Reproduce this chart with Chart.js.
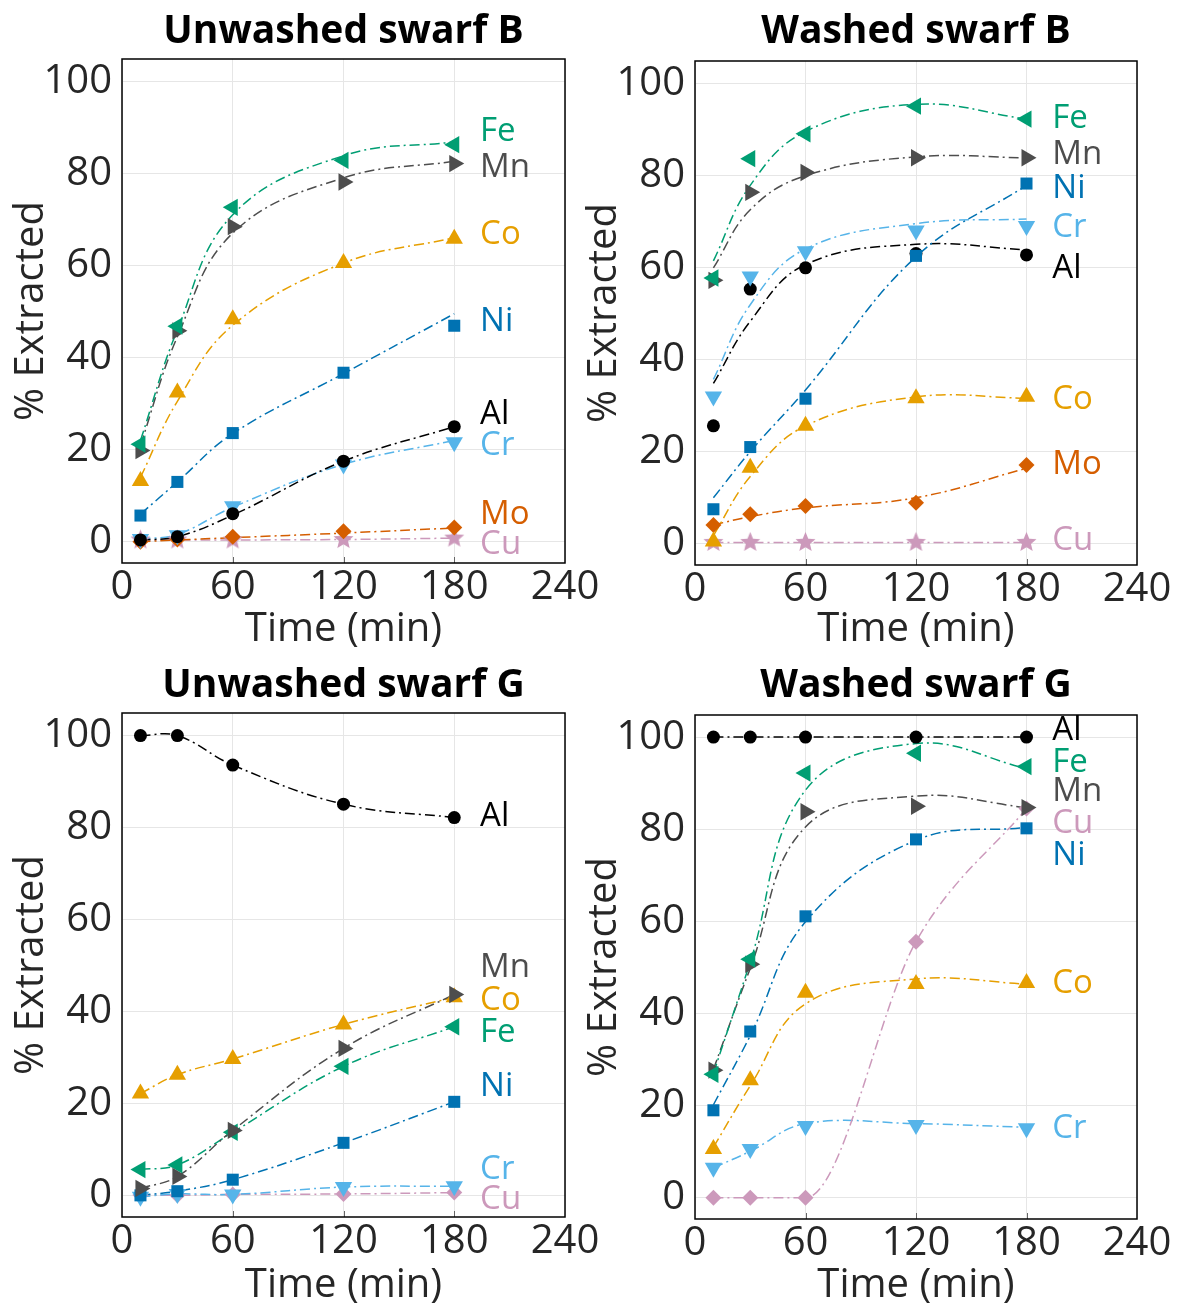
<!DOCTYPE html>
<html>
<head>
<meta charset="utf-8">
<script src="https://cdn.jsdelivr.net/npm/chart.js@4.4.0/dist/chart.umd.min.js"></script>
<style>
  html, body { margin: 0; padding: 0; background: #fff; overflow: hidden; }
  #wrap { position: relative; width: 1178px; height: 1306px; }
  .panel { position: absolute; }
</style>
</head>
<body>
<div id="wrap">
  <div class="panel" style="left:0px;top:0px"><canvas id="c0" width="610" height="650"></canvas></div>
  <div class="panel" style="left:573px;top:0px"><canvas id="c1" width="605" height="650"></canvas></div>
  <div class="panel" style="left:0px;top:653px"><canvas id="c2" width="610" height="653"></canvas></div>
  <div class="panel" style="left:573px;top:653px"><canvas id="c3" width="605" height="653"></canvas></div>
</div>
<script>
const times = [10, 30, 60, 120, 180];
const xTicks = [0, 60, 120, 180, 240];
const yTicks = [0, 20, 40, 60, 80, 100];

const colors = {
  Fe: "#009E73", Mn: "#4D4D4D", Co: "#E69F00", Ni: "#0072B2",
  Al: "#000000", Cr: "#56B4E9", Mo: "#D55E00", Cu: "#CC99BB"
};

// Unwashed swarf B
const ubNames = ["Fe", "Mn", "Co", "Ni", "Al", "Cr", "Mo", "Cu"];
const ubMarks = [
  [21.2, 46.8, 72.6, 82.8, 86.2],
  [19.8, 45.8, 68.4, 78.1, 82.1],
  [13.2, 32.4, 48.3, 60.5, 65.8],
  [5.7, 13.0, 23.6, 36.7, 46.9],
  [0.4, 1.1, 6.1, 17.5, 25.0],
  [0.6, 1.4, 7.7, 16.8, 21.6],
  [0.0, 0.5, 1.1, 2.3, 3.1],
  [0.4, 0.4, 0.4, 0.5, 0.8]
];
const ubFit = [
  [22.0, 46.0, 71.0, 83.8, 86.8],
  [21.0, 44.5, 67.0, 79.0, 82.6],
  [14.0, 30.5, 47.0, 60.5, 66.0],
  [6.0, 13.0, 23.5, 36.5, 49.5],
  [0.4, 1.1, 5.8, 17.5, 25.0],
  [0.6, 1.6, 7.5, 16.8, 22.0],
  [0.0, 0.4, 0.9, 1.9, 3.0],
  [0.4, 0.4, 0.4, 0.5, 0.8]
];
const ubLabelY = [89, 81.3, 66.6, 47.7, 27.6, 20.9, 5.9, -0.7];

// Washed swarf B
const wbNames = ["Fe", "Mn", "Ni", "Cr", "Al", "Co", "Mo", "Cu"];
const wbMarks = [
  [57.7, 83.6, 89.0, 95.0, 92.2],
  [57.2, 76.3, 80.6, 83.8, 83.8],
  [7.5, 21.0, 31.5, 62.5, 78.2],
  [32.0, 58.0, 63.5, 68.0, 69.0],
  [25.6, 55.3, 59.9, 63.0, 62.7],
  [0.5, 16.5, 25.6, 31.6, 31.9],
  [4.1, 6.4, 8.2, 8.9, 17.1],
  [0.3, 0.3, 0.3, 0.3, 0.3]
];
const wbFit = [
  [61.4, 77.8, 89.5, 95.4, 92.2],
  [59.9, 72.5, 79.9, 84.0, 83.8],
  [10.0, 20.0, 33.4, 62.3, 77.8],
  [35.7, 51.9, 64.0, 69.5, 70.5],
  [34.8, 48.3, 60.6, 65.0, 63.8],
  [1.8, 14.6, 25.6, 31.9, 31.6],
  [4.1, 5.9, 7.8, 10.0, 16.4],
  [0.3, 0.3, 0.3, 0.3, 0.3]
];
const wbLabelY = [92.2, 84.4, 77, 68.7, 59.8, 31.3, 17.1, 0.6];

// Unwashed swarf G
const ugNames = ["Al", "Mn", "Co", "Fe", "Ni", "Cr", "Cu"];
const ugMarks = [
  [99.9, 99.9, 93.5, 85.0, 82.1],
  [1.6, 4.2, 14.2, 32.0, 43.7],
  [22.2, 26.3, 29.7, 37.2, 43.1],
  [5.7, 6.7, 13.8, 28.1, 36.7],
  [0.1, 1.0, 3.5, 11.5, 20.4],
  [-0.2, 0.4, 0.3, 1.9, 2.1],
  [0.2, 0.1, 0.3, 0.4, 0.7]
];
const ugLabelY = [82.4, 49.6, 42.4, 35.5, 23.8, 5.7, -0.8];

// Washed swarf G
const wgNames = ["Al", "Fe", "Mn", "Cu", "Ni", "Co", "Cr"];
const wgMarks = [
  [100, 100, 100, 100, 100],
  [26.8, 51.8, 92.2, 96.5, 93.6],
  [27.7, 50.7, 83.8, 85.0, 84.7],
  [0.0, 0.0, 0.0, 55.6, 84.5],
  [19.0, 36.1, 61.1, 77.8, 80.2],
  [10.6, 25.5, 44.5, 46.4, 46.6],
  [6.5, 10.6, 15.6, 15.8, 15.1]
];
const wgFit = [
  [100, 100, 100, 100, 100],
  [27.0, 51.2, 88.5, 98.6, 93.2],
  [27.9, 49.8, 80.5, 87.2, 84.7],
  [0.0, 0.0, 0.0, 55.6, 84.5],
  [20.2, 35.2, 59.9, 77.6, 80.4],
  [11.0, 24.3, 42.1, 47.5, 46.4],
  [6.5, 10.1, 16.1, 16.1, 15.3]
];
const wgLabelY = [101.4, 94.5, 88.1, 81.3, 74.2, 46.4, 15.1];

const FONT = '"Open Sans", "Noto Sans", sans-serif';
const LABEL_X = 194;

function starImage(color, r) {
  const c = document.createElement("canvas");
  const s = Math.ceil(r * 2 + 2);
  c.width = s; c.height = s;
  const g = c.getContext("2d");
  g.fillStyle = color;
  g.beginPath();
  for (let k = 0; k < 10; k++) {
    const rr = k % 2 ? r * 0.45 : r;
    const ang = -Math.PI / 2 + k * Math.PI / 5;
    g.lineTo(s / 2 + rr * Math.cos(ang), s / 2 + rr * Math.sin(ang));
  }
  g.closePath();
  g.fill();
  return c;
}

function markerFor(name, cuStyle) {
  switch (name) {
    case "Fe": return { pointStyle: "triangle", pointRotation: -90, pointRadius: 10 };
    case "Mn": return { pointStyle: "triangle", pointRotation: 90, pointRadius: 10 };
    case "Co": return { pointStyle: "triangle", pointRotation: 0, pointRadius: 10 };
    case "Cr": return { pointStyle: "triangle", pointRotation: 180, pointRadius: 10 };
    case "Ni": return { pointStyle: "rect", pointRadius: 8.5 };
    case "Al": return { pointStyle: "circle", pointRadius: 6.5 };
    case "Mo": return { pointStyle: "rectRot", pointRadius: 8 };
    case "Cu":
      if (cuStyle === "star") return { pointStyle: starImage(colors.Cu, 10.5), pointRadius: 10 };
      return { pointStyle: "rectRot", pointRadius: 8 };
  }
}

const panelDecor = {
  id: "panelDecor",
  afterDraw(chart, args, opts) {
    const { ctx, chartArea: a, scales: { x, y } } = chart;
    ctx.save();
    // small inner ticks on the bottom axis
    ctx.strokeStyle = "#666";
    ctx.lineWidth = 1;
    [60, 120, 180].forEach(t => {
      const px = Math.round(x.getPixelForValue(t)) + 0.5;
      ctx.beginPath();
      ctx.moveTo(px, a.bottom);
      ctx.lineTo(px, a.bottom - 6);
      ctx.stroke();
    });
    // frame
    ctx.strokeStyle = "#000";
    ctx.lineWidth = 1.5;
    ctx.strokeRect(a.left, a.top, a.right - a.left, a.bottom - a.top);
    // title
    ctx.fillStyle = "#000";
    ctx.font = "bold 39px " + FONT;
    ctx.textAlign = "center";
    ctx.textBaseline = "middle";
    ctx.fillText(opts.title, (a.left + a.right) / 2, opts.titleY);
    // element labels
    ctx.font = "500 33px " + FONT;
    ctx.textAlign = "left";
    opts.names.forEach((n, i) => {
      ctx.fillStyle = colors[n];
      ctx.fillText(n, x.getPixelForValue(LABEL_X), y.getPixelForValue(opts.labelY[i]));
    });
    ctx.restore();
  }
};

function makePanel(id, cfg) {
  const datasets = [];
  cfg.names.forEach((n, i) => {
    const fit = (cfg.fit || cfg.marks)[i];
    const mono = (cfg.monotone || []).includes(n);
    datasets.push({
      data: times.map((t, k) => ({ x: t, y: fit[k] })),
      showLine: true,
      tension: 0.4,
      cubicInterpolationMode: mono ? "monotone" : "default",
      borderColor: colors[n],
      borderWidth: 1.5,
      borderDash: [10, 4, 2, 4],
      pointRadius: 0,
      order: 2
    });
    datasets.push(Object.assign({
      data: times.map((t, k) => ({ x: t, y: cfg.marks[i][k] })),
      showLine: false,
      backgroundColor: colors[n],
      borderColor: colors[n],
      borderWidth: 0,
      order: 1
    }, markerFor(n, cfg.cuStyle)));
  });

  const tickFont = { family: FONT, size: 40 };
  const titleFont = { family: FONT, size: 40, lineHeight: 1 };
  new Chart(document.getElementById(id), {
    type: "scatter",
    data: { datasets },
    plugins: [panelDecor],
    options: {
      responsive: false,
      animation: false,
      layout: { padding: { top: cfg.top, right: cfg.padRight, bottom: 0, left: 0 } },
      plugins: {
        legend: { display: false },
        tooltip: { enabled: false },
        panelDecor: { title: cfg.title, titleY: cfg.titleY, names: cfg.names, labelY: cfg.labelY }
      },
      scales: {
        x: {
          type: "linear", min: 0, max: 240,
          afterBuildTicks: s => { s.ticks = xTicks.map(v => ({ value: v })); },
          ticks: { font: tickFont, color: "#262626", padding: 1, maxRotation: 0, autoSkip: false },
          grid: { color: "#e6e6e6", drawTicks: false },
          border: { display: false },
          title: { display: true, text: "Time (min)", font: titleFont, color: "#262626", padding: 0 },
          afterFit: s => { s.height = cfg.xAxisH; }
        },
        y: {
          type: "linear", min: -4.6, max: 104.8,
          afterBuildTicks: s => { s.ticks = yTicks.map(v => ({ value: v })); },
          ticks: { font: tickFont, color: "#262626", padding: 10 },
          grid: { color: "#e6e6e6", drawTicks: false },
          border: { display: false },
          title: { display: true, text: "% Extracted", font: titleFont, color: "#262626", padding: { top: 12, bottom: 0 } },
          afterFit: s => { s.width = 122; }
        }
      }
    }
  });
}

makePanel("c0", { title: "Unwashed swarf B", titleY: 32, top: 59, padRight: 45, xAxisH: 87,
  names: ubNames, marks: ubMarks, fit: ubFit, labelY: ubLabelY, cuStyle: "star" });
makePanel("c1", { title: "Washed swarf B", titleY: 32, top: 61, padRight: 41, xAxisH: 85,
  names: wbNames, marks: wbMarks, fit: wbFit, labelY: wbLabelY, cuStyle: "star" });
makePanel("c2", { title: "Unwashed swarf G", titleY: 33, top: 60, padRight: 45, xAxisH: 89,
  names: ugNames, marks: ugMarks, labelY: ugLabelY, cuStyle: "diamond" });
makePanel("c3", { title: "Washed swarf G", titleY: 33, top: 62, padRight: 41, xAxisH: 87,
  names: wgNames, marks: wgMarks, fit: wgFit, labelY: wgLabelY, cuStyle: "diamond", monotone: ["Cu"] });
</script>
</body>
</html>
